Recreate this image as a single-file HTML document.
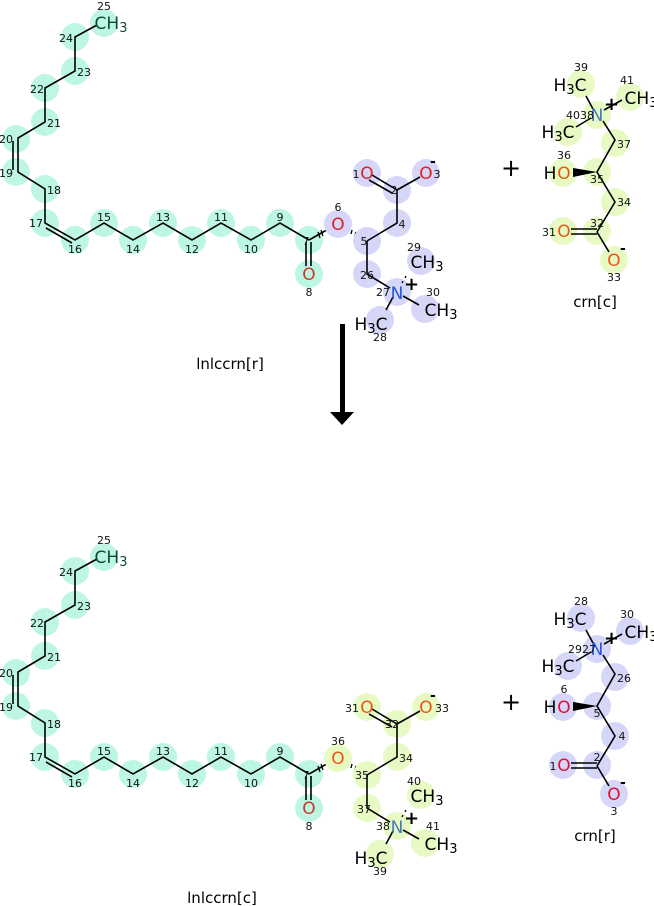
<!DOCTYPE html>
<html><head><meta charset="utf-8"><style>
html,body{margin:0;padding:0;background:#fff}
svg{display:block}
text{font-family:"DejaVu Sans","Liberation Sans",sans-serif}
.n{font-size:11px;fill:#111;text-anchor:middle}
.a{font-size:17px;text-anchor:middle}
.b{stroke:#000;stroke-width:1.6;fill:none}
.t circle{fill:#bdf7e3}
.l circle{fill:#d6d6f9}
.y circle{fill:#e8fac4}
</style></head><body>
<svg width="654" height="906" viewBox="0 0 654 906" xmlns="http://www.w3.org/2000/svg">
<defs>
<g id="chain">
<g class="t">
<circle cx="104" cy="23" r="14"/><circle cx="75" cy="37" r="14"/><circle cx="75" cy="71" r="14"/><circle cx="45" cy="88" r="14"/><circle cx="45" cy="122" r="14"/><circle cx="16" cy="139" r="14"/><circle cx="16" cy="172" r="14"/><circle cx="45" cy="189" r="14"/><circle cx="45" cy="223" r="14"/><circle cx="75" cy="240" r="14"/><circle cx="104" cy="223" r="14"/><circle cx="133" cy="240" r="14"/><circle cx="163" cy="223" r="14"/><circle cx="192" cy="240" r="14"/><circle cx="221" cy="223" r="14"/><circle cx="251" cy="240" r="14"/><circle cx="280" cy="223" r="14"/><circle cx="309" cy="240" r="14"/><circle cx="309" cy="274" r="14"/>
</g>
<polyline class="b" points="97,25 75,37 75,71 45,88 45,122 18,138 18,172 45,189 45,223 75,240 104,223 133,240 163,223 192,240 221,223 251,240 280,223 309,240"/>
<line class="b" x1="13" y1="141" x2="13" y2="170"/>
<line class="b" x1="46" y1="228" x2="72" y2="243"/>
<line class="b" x1="306" y1="242" x2="306" y2="266"/>
<line class="b" x1="311" y1="242" x2="311" y2="266"/>
<line class="b" x1="309" y1="240" x2="332" y2="227"/>
<path d="M318 232l2 6M321 230l2 6" stroke="#000" stroke-width="1.3"/>
<path d="M348 229l-0.5 2M352 230l-1 4M356 232l-1.5 5M360 234l-2 6M364 236l-2.5 7" stroke="#000" stroke-width="1.4"/>
<text class="a" x="111" y="29" fill="#0a4a3a">CH<tspan font-size="13" dy="3">3</tspan></text>
<text class="a" x="309" y="280" fill="#c83a2a">O</text>
<text class="n" x="104" y="10">25</text><text class="n" x="66" y="42">24</text><text class="n" x="84" y="76">23</text><text class="n" x="37" y="93">22</text><text class="n" x="54" y="127">21</text><text class="n" x="6" y="143">20</text><text class="n" x="6" y="177">19</text><text class="n" x="54" y="194">18</text><text class="n" x="36" y="227">17</text><text class="n" x="75" y="253">16</text><text class="n" x="104" y="221">15</text><text class="n" x="133" y="253">14</text><text class="n" x="163" y="221">13</text><text class="n" x="192" y="253">12</text><text class="n" x="221" y="221">11</text><text class="n" x="251" y="253">10</text><text class="n" x="280" y="221">9</text><text class="n" x="306" y="245">7</text><text class="n" x="309" y="296">8</text>
</g>
<g id="carnb">
<polyline class="b" points="367,241 397,223 397,190 372,175"/>
<line class="b" x1="392" y1="193" x2="369" y2="180"/>
<line class="b" x1="397" y1="190" x2="420" y2="177"/>
<polyline class="b" points="367,241 367,274 390,288"/>
<line class="b" x1="393" y1="297" x2="386" y2="310"/>
<line class="b" x1="403" y1="296" x2="419" y2="305"/>
<path d="M402 283l1-2M405 278l1-2" stroke="#000" stroke-width="1.3"/>
<text x="404" y="290" font-size="18" font-weight="bold">+</text>
<text x="430" y="166" font-size="14" font-weight="bold">-</text>
<text class="a" x="427" y="268">CH<tspan font-size="13" dy="3">3</tspan></text>
<text class="a" x="441" y="316">CH<tspan font-size="13" dy="3">3</tspan></text>
<text class="a" x="371" y="330">H<tspan font-size="13" dy="3">3</tspan><tspan dy="-3">C</tspan></text>
</g>
<g id="crnb">
<line class="b" x1="593" y1="109" x2="586" y2="96"/>
<line class="b" x1="604" y1="110" x2="622" y2="100"/>
<line class="b" x1="591" y1="118" x2="576" y2="127"/>
<polyline class="b" points="603,121 615,140 597,172 615,202 597,232"/>
<polygon points="597,172 573,168 573,177" fill="#000"/>
<line class="b" x1="597" y1="229" x2="571" y2="229"/>
<line class="b" x1="597" y1="234" x2="571" y2="234"/>
<line class="b" x1="597" y1="232" x2="609" y2="252"/>
<text x="604" y="110" font-size="18" font-weight="bold">+</text>
<text class="a" x="570" y="91">H<tspan font-size="13" dy="3">3</tspan><tspan dy="-3">C</tspan></text>
<text class="a" x="641" y="104">CH<tspan font-size="13" dy="3">3</tspan></text>
<text class="a" x="558" y="138">H<tspan font-size="13" dy="3">3</tspan><tspan dy="-3">C</tspan></text>
<text class="a" x="550" y="179">H</text>
<text x="620" y="253" font-size="14" font-weight="bold">-</text>
<text x="511" y="176" font-size="24" text-anchor="middle">+</text>
</g>
</defs>

<!-- top -->
<use href="#chain"/>
<g class="l"><circle cx="338" cy="224" r="14"/><circle cx="367" cy="241" r="14"/><circle cx="397" cy="223" r="14"/><circle cx="397" cy="190" r="14"/><circle cx="367" cy="173" r="14"/><circle cx="426" cy="173" r="14"/><circle cx="367" cy="274" r="14"/><circle cx="397" cy="292" r="14"/><circle cx="421" cy="261" r="14"/><circle cx="425" cy="309" r="14"/><circle cx="380" cy="320" r="14"/></g>
<use href="#carnb"/>
<text class="a" x="397" y="299" fill="#2255dd">N</text>
<text class="a" x="338" y="230" fill="#dd2222">O</text>
<text class="a" x="367" y="179" fill="#dd2222">O</text>
<text class="a" x="426" y="179" fill="#dd2222">O</text>
<text class="n" x="338" y="211">6</text><text class="n" x="364" y="245">5</text><text class="n" x="402" y="228">4</text><text class="n" x="394" y="194">2</text><text class="n" x="356" y="178">1</text><text class="n" x="437" y="178">3</text><text class="n" x="367" y="279">26</text><text class="n" x="383" y="296">27</text><text class="n" x="414" y="251">29</text><text class="n" x="433" y="296">30</text><text class="n" x="380" y="341">28</text>
<text x="230" y="369" font-size="15" text-anchor="middle">lnlccrn[r]</text>

<g class="y"><circle cx="581" cy="84" r="14"/><circle cx="597" cy="115" r="14"/><circle cx="630" cy="97" r="14"/><circle cx="568" cy="132" r="14"/><circle cx="615" cy="143" r="14"/><circle cx="563" cy="173" r="14"/><circle cx="597" cy="172" r="14"/><circle cx="615" cy="202" r="14"/><circle cx="597" cy="231" r="14"/><circle cx="563" cy="231" r="14"/><circle cx="614" cy="260" r="14"/></g>
<use href="#crnb"/>
<text class="a" x="597" y="121" fill="#4477bb">N</text>
<text class="a" x="564" y="179" fill="#ee5511">O</text><text class="a" x="564" y="237" fill="#ee5511">O</text><text class="a" x="614" y="266" fill="#ee5511">O</text>
<text class="n" x="581" y="71">39</text><text class="n" x="627" y="84">41</text><text class="n" x="580" y="119">4038</text><text class="n" x="624" y="148">37</text><text class="n" x="564" y="159">36</text><text class="n" x="597" y="183">35</text><text class="n" x="624" y="206">34</text><text class="n" x="597" y="227">32</text><text class="n" x="549" y="236">31</text><text class="n" x="614" y="281">33</text>
<text x="595" y="307" font-size="15" text-anchor="middle">crn[c]</text>

<!-- arrow -->
<rect x="340" y="324" width="5" height="89" fill="#000"/>
<polygon points="330,412 354,412 342,425" fill="#000"/>

<!-- bottom -->
<g transform="translate(0,534)">
<use href="#chain"/>
<g class="y"><circle cx="338" cy="224" r="14"/><circle cx="367" cy="241" r="14"/><circle cx="397" cy="223" r="14"/><circle cx="397" cy="190" r="14"/><circle cx="367" cy="173" r="14"/><circle cx="426" cy="173" r="14"/><circle cx="367" cy="274" r="14"/><circle cx="397" cy="292" r="14"/><circle cx="421" cy="261" r="14"/><circle cx="425" cy="309" r="14"/><circle cx="380" cy="320" r="14"/></g>
<use href="#carnb"/>
<text class="a" x="397" y="299" fill="#4477bb">N</text>
<text class="a" x="338" y="230" fill="#ee5511">O</text><text class="a" x="367" y="179" fill="#ee5511">O</text><text class="a" x="426" y="179" fill="#ee5511">O</text>
<text class="n" x="338" y="211">36</text><text class="n" x="362" y="245">35</text><text class="n" x="406" y="228">34</text><text class="n" x="392" y="194">32</text><text class="n" x="352" y="178">31</text><text class="n" x="442" y="178">33</text><text class="n" x="364" y="279">37</text><text class="n" x="383" y="296">38</text><text class="n" x="414" y="251">40</text><text class="n" x="433" y="296">41</text><text class="n" x="380" y="341">39</text>
<text x="222" y="369" font-size="15" text-anchor="middle">lnlccrn[c]</text>

<g class="l"><circle cx="581" cy="84" r="14"/><circle cx="597" cy="115" r="14"/><circle cx="630" cy="97" r="14"/><circle cx="568" cy="132" r="14"/><circle cx="615" cy="143" r="14"/><circle cx="563" cy="173" r="14"/><circle cx="597" cy="172" r="14"/><circle cx="615" cy="202" r="14"/><circle cx="597" cy="231" r="14"/><circle cx="563" cy="231" r="14"/><circle cx="614" cy="260" r="14"/></g>
<use href="#crnb"/>
<text class="a" x="597" y="121" fill="#2255dd">N</text>
<text class="a" x="564" y="179" fill="#dd1133">O</text><text class="a" x="564" y="237" fill="#dd1133">O</text><text class="a" x="614" y="266" fill="#dd1133">O</text>
<text class="n" x="581" y="71">28</text><text class="n" x="627" y="84">30</text><text class="n" x="582" y="119">2927</text><text class="n" x="624" y="148">26</text><text class="n" x="564" y="159">6</text><text class="n" x="597" y="183">5</text><text class="n" x="622" y="206">4</text><text class="n" x="597" y="227">2</text><text class="n" x="553" y="236">1</text><text class="n" x="614" y="281">3</text>
<text x="595" y="307" font-size="15" text-anchor="middle">crn[r]</text>
</g>
</svg>
</body></html>
